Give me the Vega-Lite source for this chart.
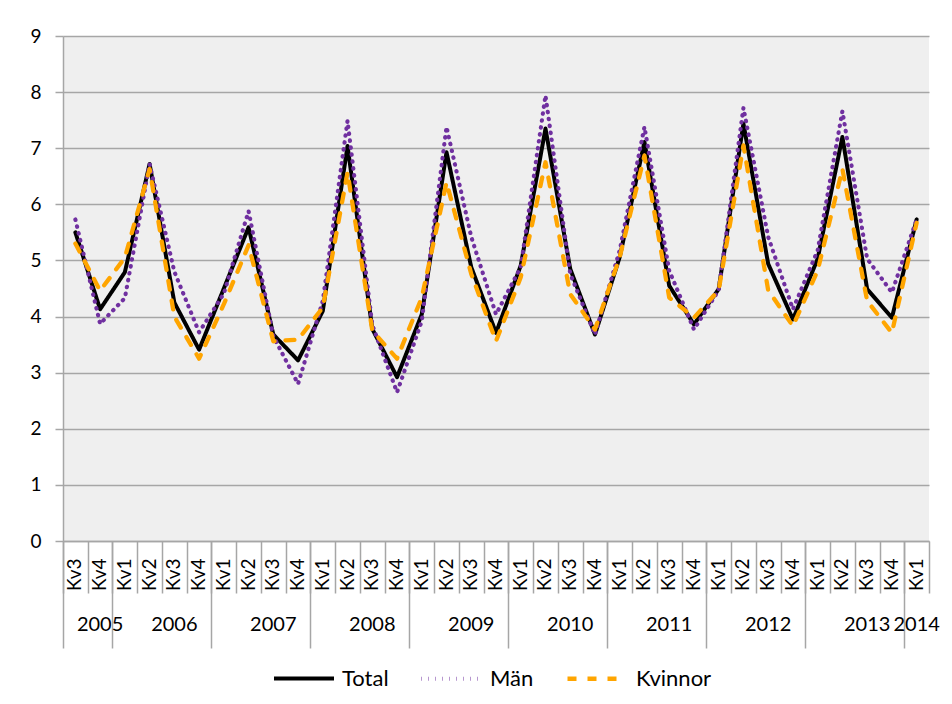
{
  "$schema": "https://vega.github.io/schema/vega-lite/v6.json",
  "width": 866,
  "height": 505,
  "autosize": {"type": "none"},
  "padding": {"left": 63, "top": 36, "right": 23, "bottom": 163},
  "background": "white",
  "config": {
    "font": "Lato",
    "view": {"fill": "#EFEFEF", "stroke": null}
  },
  "data": {"values": [
    {"period": "2005 Kv3", "serie": "Total", "value": 5.50},
    {"period": "2005 Kv4", "serie": "Total", "value": 4.13},
    {"period": "2006 Kv1", "serie": "Total", "value": 4.79},
    {"period": "2006 Kv2", "serie": "Total", "value": 6.72},
    {"period": "2006 Kv3", "serie": "Total", "value": 4.25},
    {"period": "2006 Kv4", "serie": "Total", "value": 3.41},
    {"period": "2007 Kv1", "serie": "Total", "value": 4.50},
    {"period": "2007 Kv2", "serie": "Total", "value": 5.59},
    {"period": "2007 Kv3", "serie": "Total", "value": 3.68},
    {"period": "2007 Kv4", "serie": "Total", "value": 3.22},
    {"period": "2008 Kv1", "serie": "Total", "value": 4.10},
    {"period": "2008 Kv2", "serie": "Total", "value": 7.04},
    {"period": "2008 Kv3", "serie": "Total", "value": 3.78},
    {"period": "2008 Kv4", "serie": "Total", "value": 2.92},
    {"period": "2009 Kv1", "serie": "Total", "value": 4.04},
    {"period": "2009 Kv2", "serie": "Total", "value": 6.93},
    {"period": "2009 Kv3", "serie": "Total", "value": 4.88},
    {"period": "2009 Kv4", "serie": "Total", "value": 3.71},
    {"period": "2010 Kv1", "serie": "Total", "value": 4.91},
    {"period": "2010 Kv2", "serie": "Total", "value": 7.35},
    {"period": "2010 Kv3", "serie": "Total", "value": 4.85},
    {"period": "2010 Kv4", "serie": "Total", "value": 3.68},
    {"period": "2011 Kv1", "serie": "Total", "value": 5.06},
    {"period": "2011 Kv2", "serie": "Total", "value": 7.11},
    {"period": "2011 Kv3", "serie": "Total", "value": 4.55},
    {"period": "2011 Kv4", "serie": "Total", "value": 3.86},
    {"period": "2012 Kv1", "serie": "Total", "value": 4.49},
    {"period": "2012 Kv2", "serie": "Total", "value": 7.44},
    {"period": "2012 Kv3", "serie": "Total", "value": 4.94},
    {"period": "2012 Kv4", "serie": "Total", "value": 3.95},
    {"period": "2013 Kv1", "serie": "Total", "value": 5.03},
    {"period": "2013 Kv2", "serie": "Total", "value": 7.20},
    {"period": "2013 Kv3", "serie": "Total", "value": 4.49},
    {"period": "2013 Kv4", "serie": "Total", "value": 3.98},
    {"period": "2014 Kv1", "serie": "Total", "value": 5.73},
    {"period": "2005 Kv3", "serie": "Män", "value": 5.73},
    {"period": "2005 Kv4", "serie": "Män", "value": 3.87},
    {"period": "2006 Kv1", "serie": "Män", "value": 4.33},
    {"period": "2006 Kv2", "serie": "Män", "value": 6.72},
    {"period": "2006 Kv3", "serie": "Män", "value": 4.80},
    {"period": "2006 Kv4", "serie": "Män", "value": 3.72},
    {"period": "2007 Kv1", "serie": "Män", "value": 4.41},
    {"period": "2007 Kv2", "serie": "Män", "value": 5.88},
    {"period": "2007 Kv3", "serie": "Män", "value": 3.65},
    {"period": "2007 Kv4", "serie": "Män", "value": 2.80},
    {"period": "2008 Kv1", "serie": "Män", "value": 4.28},
    {"period": "2008 Kv2", "serie": "Män", "value": 7.49},
    {"period": "2008 Kv3", "serie": "Män", "value": 3.85},
    {"period": "2008 Kv4", "serie": "Män", "value": 2.65},
    {"period": "2009 Kv1", "serie": "Män", "value": 3.92},
    {"period": "2009 Kv2", "serie": "Män", "value": 7.38},
    {"period": "2009 Kv3", "serie": "Män", "value": 5.42},
    {"period": "2009 Kv4", "serie": "Män", "value": 4.04},
    {"period": "2010 Kv1", "serie": "Män", "value": 4.88},
    {"period": "2010 Kv2", "serie": "Män", "value": 7.94},
    {"period": "2010 Kv3", "serie": "Män", "value": 4.76},
    {"period": "2010 Kv4", "serie": "Män", "value": 3.68},
    {"period": "2011 Kv1", "serie": "Män", "value": 5.18},
    {"period": "2011 Kv2", "serie": "Män", "value": 7.38},
    {"period": "2011 Kv3", "serie": "Män", "value": 4.82},
    {"period": "2011 Kv4", "serie": "Män", "value": 3.77},
    {"period": "2012 Kv1", "serie": "Män", "value": 4.47},
    {"period": "2012 Kv2", "serie": "Män", "value": 7.72},
    {"period": "2012 Kv3", "serie": "Män", "value": 5.42},
    {"period": "2012 Kv4", "serie": "Män", "value": 4.13},
    {"period": "2013 Kv1", "serie": "Män", "value": 5.18},
    {"period": "2013 Kv2", "serie": "Män", "value": 7.66},
    {"period": "2013 Kv3", "serie": "Män", "value": 5.03},
    {"period": "2013 Kv4", "serie": "Män", "value": 4.43},
    {"period": "2014 Kv1", "serie": "Män", "value": 5.73},
    {"period": "2005 Kv3", "serie": "Kvinnor", "value": 5.30},
    {"period": "2005 Kv4", "serie": "Kvinnor", "value": 4.46},
    {"period": "2006 Kv1", "serie": "Kvinnor", "value": 5.05},
    {"period": "2006 Kv2", "serie": "Kvinnor", "value": 6.63},
    {"period": "2006 Kv3", "serie": "Kvinnor", "value": 4.00},
    {"period": "2006 Kv4", "serie": "Kvinnor", "value": 3.25},
    {"period": "2007 Kv1", "serie": "Kvinnor", "value": 4.22},
    {"period": "2007 Kv2", "serie": "Kvinnor", "value": 5.27},
    {"period": "2007 Kv3", "serie": "Kvinnor", "value": 3.56},
    {"period": "2007 Kv4", "serie": "Kvinnor", "value": 3.59},
    {"period": "2008 Kv1", "serie": "Kvinnor", "value": 4.16},
    {"period": "2008 Kv2", "serie": "Kvinnor", "value": 6.57},
    {"period": "2008 Kv3", "serie": "Kvinnor", "value": 3.75},
    {"period": "2008 Kv4", "serie": "Kvinnor", "value": 3.25},
    {"period": "2009 Kv1", "serie": "Kvinnor", "value": 4.34},
    {"period": "2009 Kv2", "serie": "Kvinnor", "value": 6.39},
    {"period": "2009 Kv3", "serie": "Kvinnor", "value": 4.76},
    {"period": "2009 Kv4", "serie": "Kvinnor", "value": 3.56},
    {"period": "2010 Kv1", "serie": "Kvinnor", "value": 4.70},
    {"period": "2010 Kv2", "serie": "Kvinnor", "value": 6.75},
    {"period": "2010 Kv3", "serie": "Kvinnor", "value": 4.40},
    {"period": "2010 Kv4", "serie": "Kvinnor", "value": 3.77},
    {"period": "2011 Kv1", "serie": "Kvinnor", "value": 5.06},
    {"period": "2011 Kv2", "serie": "Kvinnor", "value": 6.87},
    {"period": "2011 Kv3", "serie": "Kvinnor", "value": 4.34},
    {"period": "2011 Kv4", "serie": "Kvinnor", "value": 3.98},
    {"period": "2012 Kv1", "serie": "Kvinnor", "value": 4.47},
    {"period": "2012 Kv2", "serie": "Kvinnor", "value": 7.05},
    {"period": "2012 Kv3", "serie": "Kvinnor", "value": 4.47},
    {"period": "2012 Kv4", "serie": "Kvinnor", "value": 3.83},
    {"period": "2013 Kv1", "serie": "Kvinnor", "value": 4.82},
    {"period": "2013 Kv2", "serie": "Kvinnor", "value": 6.63},
    {"period": "2013 Kv3", "serie": "Kvinnor", "value": 4.28},
    {"period": "2013 Kv4", "serie": "Kvinnor", "value": 3.71},
    {"period": "2014 Kv1", "serie": "Kvinnor", "value": 5.67}
  ]},
  "layer": [
    {
      "mark": {"type": "rule", "opacity": 0},
      "encoding": {
        "x": {"field": "period", "type": "ordinal", "sort": null,
          "scale": {"type": "band", "paddingInner": 0, "paddingOuter": 0},
          "axis": {"orient": "bottom", "title": null, "tickBand": "extent", "tickSize": 52,
            "tickColor": "#A6A6A6", "tickWidth": 1.5, "labels": false, "domain": false, "grid": false}}
      }
    },
    {
      "mark": {"type": "rule", "opacity": 0},
      "encoding": {
        "x": {"field": "period", "type": "ordinal", "sort": null,
          "axis": {"orient": "bottom", "title": null, "bandPosition": 0, "tickSize": 107,
            "values": ["2005 Kv3", "2006 Kv1", "2007 Kv1", "2008 Kv1", "2009 Kv1", "2010 Kv1", "2011 Kv1", "2012 Kv1", "2013 Kv1", "2014 Kv1"],
            "tickColor": "#A6A6A6", "tickWidth": 1.5, "labels": false, "domain": false, "grid": false}}
      }
    },
    {
      "mark": {"type": "rule", "opacity": 0},
      "encoding": {
        "x": {"field": "period", "type": "ordinal", "sort": null,
          "axis": {"orient": "bottom", "title": null, "bandPosition": 0, "ticks": false,
            "values": ["2005 Kv4", "2006 Kv3", "2007 Kv3", "2008 Kv3", "2009 Kv3", "2010 Kv3", "2011 Kv3", "2012 Kv3", "2013 Kv3"],
            "labelExpr": "slice(datum.value, 0, 4)", "labelAngle": 0, "labelAlign": "center", "labelBaseline": "top",
            "labelPadding": 73, "labelFontSize": 20, "labelColor": "black", "domain": false, "grid": false}}
      }
    },
    {
      "mark": {"type": "rule", "opacity": 0},
      "encoding": {
        "x": {"field": "period", "type": "ordinal", "sort": null,
          "axis": {"orient": "bottom", "title": null, "bandPosition": 0.5, "ticks": false,
            "values": ["2014 Kv1"],
            "labelExpr": "slice(datum.value, 0, 4)", "labelAngle": 0, "labelAlign": "center", "labelBaseline": "top",
            "labelPadding": 73, "labelFontSize": 20, "labelColor": "black", "domain": false, "grid": false}}
      }
    },
    {
      "mark": {"type": "line", "strokeCap": "round", "strokeJoin": "round"},
      "encoding": {
        "x": {"field": "period", "type": "ordinal", "sort": null, "bandPosition": 0.5,
          "axis": {"orient": "bottom", "title": null, "ticks": false, "labelAngle": 270,
            "labelExpr": "slice(datum.value, 5)", "labelPadding": 17, "labelFontSize": 19,
            "labelColor": "black", "domainColor": "#A6A6A6", "domainWidth": 1.5, "grid": false}},
        "y": {"field": "value", "type": "quantitative",
          "scale": {"domain": [0, 9], "nice": false},
          "axis": {"title": null, "values": [0, 1, 2, 3, 4, 5, 6, 7, 8, 9], "grid": true,
            "gridColor": "#A6A6A6", "gridWidth": 1.5, "tickSize": 8, "tickColor": "#A6A6A6", "tickWidth": 1.5,
            "domainColor": "#A6A6A6", "domainWidth": 1.5, "labelFontSize": 19, "labelPadding": 14, "labelColor": "black"}},
        "color": {"field": "serie", "type": "nominal",
          "scale": {"domain": ["Total", "Män", "Kvinnor"], "range": ["#000000", "#7030A0", "#FFA500"]},
          "legend": {"orient": "none", "legendX": 209, "legendY": 610, "direction": "horizontal", "title": null, "labelFontSize": 22,
            "labelColor": "black", "symbolType": "stroke", "symbolSize": 3600, "symbolStrokeWidth": 4,
            "labelOffset": 6, "columnPadding": 24}},
        "strokeDash": {"field": "serie", "type": "nominal",
          "scale": {"domain": ["Total", "Män", "Kvinnor"], "range": [[1, 0], [0.5, 6.5], [9, 11]]}},
        "strokeWidth": {"field": "serie", "type": "nominal",
          "scale": {"domain": ["Total", "Män", "Kvinnor"], "range": [4, 4.3, 4]}}
      }
    }
  ],
  "resolve": {"axis": {"x": "independent"}}
}
